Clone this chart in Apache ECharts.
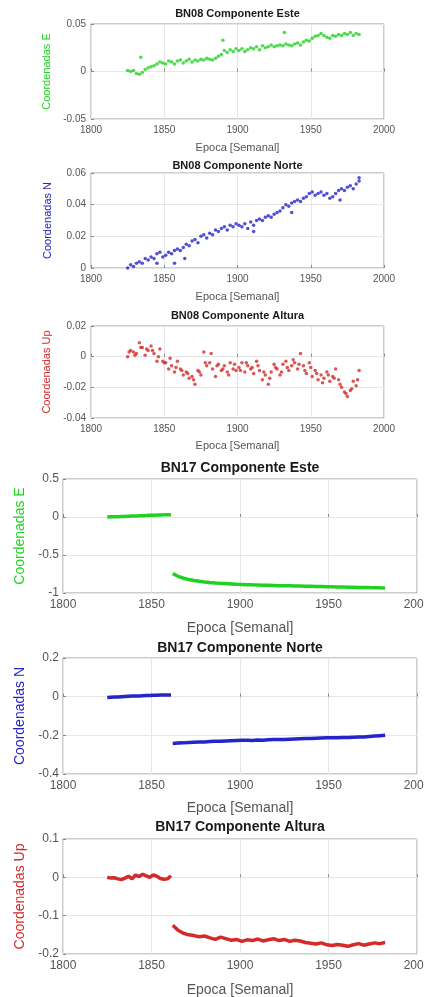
<!DOCTYPE html>
<html>
<head>
<meta charset="utf-8">
<script src="https://cdn.jsdelivr.net/npm/echarts@6/dist/echarts.min.js"></script>
<style>
html, body { margin: 0; padding: 0; background: #fff; }
#chart { width: 424px; height: 997px; }
</style>
</head>
<body>
<div id="chart"></div>
<script>
// ---- BN08 (weekly solutions, dots) ----
var bn08Weeks = [1825, 1827, 1829, 1831, 1833, 1835, 1837, 1839,
  1841, 1843, 1845, 1847, 1849, 1851, 1853, 1855, 1857, 1859,
  1861, 1863, 1865, 1867, 1869, 1871, 1873, 1875, 1877, 1879,
  1881, 1883, 1885, 1887, 1889, 1891, 1893, 1895, 1897, 1899,
  1901, 1903, 1905, 1907, 1909, 1911, 1913, 1915, 1917, 1919,
  1921, 1923, 1925, 1927, 1929, 1931, 1933, 1935, 1937, 1939,
  1941, 1943, 1945, 1947, 1949, 1951, 1953, 1955, 1957, 1959,
  1961, 1963, 1965, 1967, 1969, 1971, 1973, 1975, 1977, 1979,
  1981, 1983];
var bn08Este = [0.001, 0.000, 0.001, -0.002, -0.003, -0.001, 0.002, 0.004,
  0.005, 0.006, 0.008, 0.010, 0.009, 0.008, 0.011, 0.010, 0.008, 0.011,
  0.012, 0.009, 0.011, 0.013, 0.010, 0.012, 0.011, 0.013, 0.012, 0.014,
  0.013, 0.012, 0.014, 0.016, 0.018, 0.022, 0.020, 0.023, 0.021, 0.024,
  0.022, 0.024, 0.021, 0.023, 0.025, 0.024, 0.026, 0.023, 0.027, 0.025,
  0.026, 0.028, 0.026, 0.027, 0.028, 0.027, 0.029, 0.028, 0.027, 0.029,
  0.030, 0.028, 0.031, 0.033, 0.032, 0.035, 0.037, 0.038, 0.040, 0.038,
  0.036, 0.035, 0.038, 0.037, 0.039, 0.038, 0.040, 0.039, 0.041, 0.038,
  0.040, 0.039];
var bn08EsteExtra = [[1834, 0.015], [1890, 0.033], [1932, 0.041]];
var bn08Norte = [0.000, 0.002, 0.001, 0.003, 0.004, 0.003, 0.006, 0.005,
  0.007, 0.006, 0.009, 0.010, 0.007, 0.008, 0.010, 0.009, 0.011, 0.012,
  0.011, 0.013, 0.015, 0.014, 0.017, 0.018, 0.016, 0.020, 0.021, 0.019,
  0.022, 0.021, 0.024, 0.023, 0.025, 0.026, 0.024, 0.027, 0.026, 0.028,
  0.027, 0.026, 0.028, 0.025, 0.029, 0.027, 0.030, 0.031, 0.030, 0.032,
  0.033, 0.032, 0.034, 0.035, 0.036, 0.038, 0.040, 0.039, 0.041, 0.042,
  0.043, 0.042, 0.044, 0.045, 0.047, 0.048, 0.046, 0.047, 0.048, 0.046,
  0.047, 0.044, 0.045, 0.047, 0.049, 0.050, 0.049, 0.051, 0.052, 0.050,
  0.053, 0.055];
var bn08NorteExtra = [[1845, 0.003], [1857, 0.003], [1864, 0.006], [1911, 0.023],
  [1937, 0.035], [1970, 0.043], [1983, 0.057]];
var bn08Up = [0.000, 0.004, 0.003, 0.002, 0.009, 0.006, 0.001, 0.004,
  0.007, 0.002, -0.003, 0.005, -0.003, -0.004, -0.008, -0.006, -0.010, -0.003,
  -0.008, -0.012, -0.010, -0.014, -0.013, -0.018, -0.009, -0.012, 0.003, -0.006,
  -0.004, -0.008, -0.013, -0.005, -0.009, -0.006, -0.010, -0.004, -0.008, -0.009,
  -0.007, -0.004, -0.010, -0.006, -0.008, -0.011, -0.003, -0.009, -0.015, -0.012,
  -0.018, -0.010, -0.005, -0.008, -0.012, -0.005, -0.003, -0.009, -0.006, -0.004,
  -0.008, 0.002, -0.006, -0.011, -0.004, -0.013, -0.009, -0.015, -0.012, -0.014,
  -0.010, -0.016, -0.013, -0.008, -0.015, -0.020, -0.023, -0.026, -0.022, -0.016,
  -0.019, -0.009];
var bn08UpExtra = [[1826, 0.003], [1830, 0.001], [1834, 0.006], [1838, 0.005],
  [1842, 0.004], [1846, 0.000], [1850, -0.004], [1854, -0.001], [1858, -0.007],
  [1862, -0.009], [1866, -0.011], [1870, -0.015], [1874, -0.010], [1878, -0.004],
  [1882, 0.002], [1886, -0.006], [1890, -0.008], [1894, -0.012], [1898, -0.005],
  [1902, -0.009], [1906, -0.004], [1910, -0.007], [1914, -0.006], [1918, -0.010],
  [1922, -0.014], [1926, -0.007], [1930, -0.010], [1934, -0.007], [1938, -0.002],
  [1942, -0.005], [1946, -0.009], [1950, -0.007], [1954, -0.011], [1958, -0.017],
  [1962, -0.012], [1966, -0.014], [1970, -0.018], [1974, -0.024], [1978, -0.021],
  [1982, -0.015]];

// ---- BN17 (dense solutions, before / after the jump) ----
var bn17Weeks1 = [1825, 1827, 1829, 1831, 1833, 1835, 1837, 1839, 1841, 1843,
  1845, 1847, 1849, 1851, 1853, 1855, 1857, 1859, 1861];
var bn17Weeks2 = [1862, 1865, 1868, 1871, 1874, 1877, 1880, 1883, 1886, 1889,
  1892, 1895, 1898, 1901, 1904, 1907, 1910, 1913, 1916, 1919,
  1922, 1925, 1928, 1931, 1934, 1937, 1940, 1943, 1946, 1949,
  1952, 1955, 1958, 1961, 1964, 1967, 1970, 1973, 1976, 1979, 1982];
var bn17Este1 = [0.000, 0.002, 0.003, 0.004, 0.006, 0.008, 0.010, 0.012, 0.013, 0.015,
  0.018, 0.020, 0.022, 0.024, 0.025, 0.027, 0.028, 0.030, 0.031];
var bn17Este2 = [-0.745, -0.780, -0.805, -0.822, -0.836, -0.846, -0.854, -0.861, -0.867, -0.872,
  -0.876, -0.880, -0.884, -0.887, -0.890, -0.893, -0.895, -0.897, -0.899, -0.901,
  -0.903, -0.905, -0.906, -0.908, -0.909, -0.911, -0.912, -0.914, -0.915, -0.917,
  -0.918, -0.920, -0.921, -0.923, -0.924, -0.926, -0.927, -0.929, -0.930, -0.932, -0.933];
var bn17Norte1 = [-0.004, -0.003, -0.002, -0.002, 0.000, 0.001, 0.002, 0.003, 0.004, 0.004,
  0.005, 0.006, 0.006, 0.007, 0.007, 0.008, 0.008, 0.009, 0.009];
var bn17Norte2 = [-0.242, -0.240, -0.239, -0.237, -0.236, -0.235, -0.234, -0.232, -0.231, -0.230,
  -0.229, -0.228, -0.227, -0.226, -0.226, -0.227, -0.224, -0.225, -0.223, -0.222,
  -0.222, -0.221, -0.220, -0.219, -0.218, -0.217, -0.216, -0.215, -0.214, -0.213,
  -0.212, -0.212, -0.211, -0.211, -0.210, -0.209, -0.208, -0.206, -0.204, -0.202, -0.200];
var bn17Up1 = [0.000, -0.002, -0.001, -0.004, -0.006, -0.002, 0.003, -0.004, 0.006, 0.002,
  0.008, 0.004, 0.000, 0.006, 0.003, -0.003, -0.005, -0.004, 0.004];
var bn17Up2 = [-0.125, -0.138, -0.146, -0.150, -0.152, -0.155, -0.153, -0.158, -0.162, -0.156,
  -0.160, -0.164, -0.162, -0.167, -0.163, -0.165, -0.161, -0.166, -0.163, -0.160,
  -0.165, -0.162, -0.167, -0.164, -0.166, -0.170, -0.172, -0.174, -0.171, -0.176,
  -0.178, -0.175, -0.177, -0.180, -0.176, -0.173, -0.177, -0.174, -0.171, -0.173, -0.170];

function zip(xs, ys) {
  return xs.map(function (x, i) { return [x, ys[i]]; });
}

var FONT = '"Liberation Sans", Arial, sans-serif';
var green = '#1fd21f', blue = '#2424c8', red = '#d42a2a';

// one entry per subplot
var panels = [
  { title: 'BN08 Componente Este', yName: 'Coordenadas E', color: green, ymin: -0.05, ymax: 0.05, yint: 0.05,
    grid: [91, 24, 293, 95], small: true, titleTop: 8, xGap: 23,
    series: [zip(bn08Weeks, bn08Este), bn08EsteExtra], kind: 'dots' },
  { title: 'BN08 Componente Norte', yName: 'Coordenadas N', color: blue, ymin: 0, ymax: 0.06, yint: 0.02,
    grid: [91, 173, 293, 95], small: true, titleTop: 160, xGap: 23,
    series: [zip(bn08Weeks, bn08Norte), bn08NorteExtra], kind: 'dots' },
  { title: 'BN08 Componente Altura', yName: 'Coordenadas Up', color: red, ymin: -0.04, ymax: 0.02, yint: 0.02,
    grid: [91, 326, 293, 92], small: true, titleTop: 310, xGap: 22,
    series: [zip(bn08Weeks, bn08Up), bn08UpExtra], kind: 'dots' },
  { title: 'BN17 Componente Este', yName: 'Coordenadas E', color: green, ymin: -1, ymax: 0.5, yint: 0.5,
    grid: [63, 479, 354, 114], small: false, titleTop: 461, xGap: 28,
    series: [zip(bn17Weeks1, bn17Este1), zip(bn17Weeks2, bn17Este2)], kind: 'line' },
  { title: 'BN17 Componente Norte', yName: 'Coordenadas N', color: blue, ymin: -0.4, ymax: 0.2, yint: 0.2,
    grid: [63, 658, 354, 116], small: false, titleTop: 641, xGap: 27,
    series: [zip(bn17Weeks1, bn17Norte1), zip(bn17Weeks2, bn17Norte2)], kind: 'line' },
  { title: 'BN17 Componente Altura', yName: 'Coordenadas Up', color: red, ymin: -0.2, ymax: 0.1, yint: 0.1,
    grid: [63, 839, 354, 115], small: false, titleTop: 820, xGap: 29,
    series: [zip(bn17Weeks1, bn17Up1), zip(bn17Weeks2, bn17Up2)], kind: 'line' }
];

var option = { backgroundColor: '#fff', animation: false, title: [], grid: [], xAxis: [], yAxis: [], series: [] };

panels.forEach(function (p, i) {
  var tick = p.small ? 10 : 12;
  var lab = p.small ? 11 : 14;
  var g = p.grid;
  option.title.push({
    text: p.title, left: g[0] + g[2] / 2, top: p.titleTop, textAlign: 'center', padding: 0,
    textStyle: { fontFamily: FONT, fontSize: p.small ? 11 : 14, fontWeight: 'bold', color: '#1a1a1a' }
  });
  option.grid.push({
    left: g[0], top: g[1], width: g[2], height: g[3], outerBoundsMode: 'none',
    show: true, borderColor: '#9a9a9a', borderWidth: 1
  });
  option.xAxis.push({
    gridIndex: i, type: 'value', min: 1800, max: 2000, interval: 50,
    name: 'Epoca [Semanal]', nameLocation: 'middle', nameGap: p.xGap,
    nameTextStyle: { fontFamily: FONT, fontSize: lab, color: '#555' },
    axisLine: { show: false },
    axisTick: { inside: true, length: 3, lineStyle: { color: '#888' } },
    axisLabel: { fontFamily: FONT, fontSize: tick, color: '#555', margin: 6, showMaxLabel: true,
      formatter: function (v) { return String(v); } },
    splitLine: { show: true, lineStyle: { color: '#e6e6e6', width: 1 } }
  });
  option.yAxis.push({
    gridIndex: i, type: 'value', min: p.ymin, max: p.ymax, interval: p.yint,
    name: p.yName, nameLocation: 'middle', nameGap: p.small ? 38 : 35,
    nameTextStyle: { fontFamily: FONT, fontSize: lab, color: p.color },
    axisLine: { show: false },
    axisTick: { inside: true, length: 3, lineStyle: { color: '#888' } },
    axisLabel: { fontFamily: FONT, fontSize: tick, color: '#555', margin: p.small ? 5 : 4 },
    splitLine: { show: true, lineStyle: { color: '#e6e6e6', width: 1 } }
  });
  p.series.forEach(function (d) {
    if (p.kind === 'dots') {
      option.series.push({
        type: 'scatter', xAxisIndex: i, yAxisIndex: i, data: d,
        symbol: 'circle', symbolSize: 3.5, itemStyle: { color: p.color }
      });
    } else {
      option.series.push({
        type: 'line', xAxisIndex: i, yAxisIndex: i, data: d, showSymbol: false,
        lineStyle: { color: p.color, width: 3.5 }
      });
    }
  });
});

var myChart = echarts.init(document.getElementById('chart'));
myChart.setOption(option);
</script>
</body>
</html>
